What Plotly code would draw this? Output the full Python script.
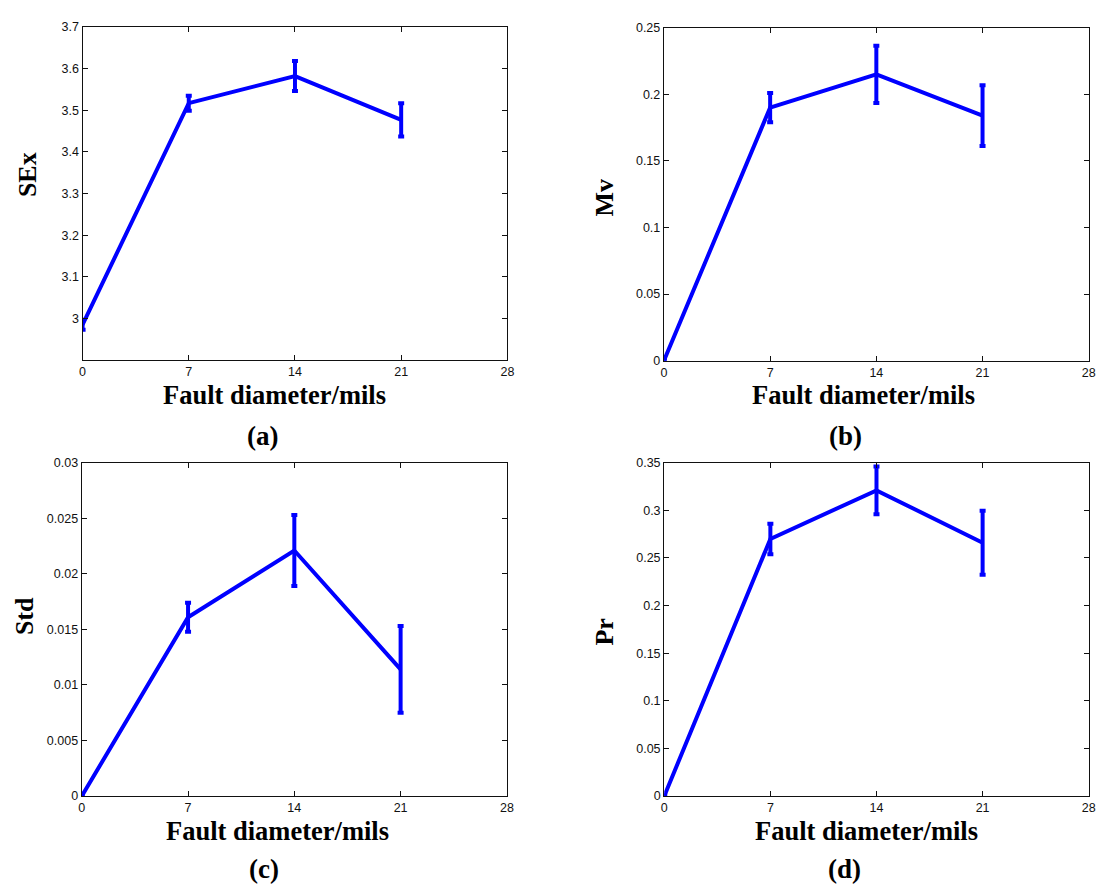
import plotly.graph_objects as go

W, H = 1101, 892

fault_diam = [0, 7, 14, 21]
x_ticks = [0, 7, 14, 21, 28]

sex_vals = [2.985, 3.517, 3.582, 3.477]
sex_err = [0.012, 0.018, 0.036, 0.040]
mv_vals = [0.0, 0.190, 0.215, 0.184]
mv_err = [0.0005, 0.011, 0.0215, 0.0228]
std_vals = [0.0, 0.0161, 0.0221, 0.0114]
std_err = [0.00005, 0.0013, 0.0032, 0.0039]
pr_vals = [0.0, 0.270, 0.321, 0.266]
pr_err = [0.001, 0.016, 0.025, 0.0335]

sex_ticks = [3.0, 3.1, 3.2, 3.3, 3.4, 3.5, 3.6, 3.7]
sex_ticktext = ["3", "3.1", "3.2", "3.3", "3.4", "3.5", "3.6", "3.7"]
mv_ticks = [0, 0.05, 0.1, 0.15, 0.2, 0.25]
mv_ticktext = ["0", "0.05", "0.1", "0.15", "0.2", "0.25"]
std_ticks = [0, 0.005, 0.01, 0.015, 0.02, 0.025, 0.03]
std_ticktext = ["0", "0.005", "0.01", "0.015", "0.02", "0.025", "0.03"]
pr_ticks = [0, 0.05, 0.1, 0.15, 0.2, 0.25, 0.3, 0.35]
pr_ticktext = ["0", "0.05", "0.1", "0.15", "0.2", "0.25", "0.3", "0.35"]

panels = [
    dict(vals=sex_vals, err=sex_err, yr=[2.9, 3.7], tv=sex_ticks, tt=sex_ticktext,
         xd=[80.3, 509.0], yd=[20.3, 358.7], ytitle="SEx", ytpos=(25, 170),
         xtpos=(274, 394), label="(a)", lpos=(262, 436)),
    dict(vals=mv_vals, err=mv_err, yr=[0, 0.25], tv=mv_ticks, tt=mv_ticktext,
         xd=[667.0, 1095.7], yd=[21.0, 359.3], ytitle="Mv", ytpos=(607, 193),
         xtpos=(868, 394), label="(b)", lpos=(850, 436)),
    dict(vals=std_vals, err=std_err, yr=[0, 0.03], tv=std_ticks, tt=std_ticktext,
         xd=[79.5, 508.5], yd=[463.0, 801.7], ytitle="Std", ytpos=(21, 619),
         xtpos=(277, 837), label="(c)", lpos=(263, 876)),
    dict(vals=pr_vals, err=pr_err, yr=[0, 0.35], tv=pr_ticks, tt=pr_ticktext,
         xd=[667.3, 1095.7], yd=[463.0, 801.7], ytitle="Pr", ytpos=(607, 635),
         xtpos=(871, 837), label="(d)", lpos=(849, 876)),
]

fig = go.Figure()
layout = dict(width=W, height=H, autosize=False, margin=dict(l=0, r=0, t=0, b=0),
              paper_bgcolor="white", plot_bgcolor="white", showlegend=False)
annotations = []
tickfont = dict(family="Liberation Sans, Arial", size=12.5, color="#111111")
serif = "Liberation Serif, Times New Roman"

for i, p in enumerate(panels, start=1):
    sfx = "" if i == 1 else str(i)
    fig.add_trace(go.Scatter(
        x=fault_diam, y=p["vals"], mode="lines",
        line=dict(color="#0000FF", width=4),
        error_y=dict(type="data", array=p["err"], visible=True, color="#0000FF",
                     thickness=4, width=3),
        xaxis="x" + sfx, yaxis="y" + sfx, cliponaxis=False,
    ))
    layout["xaxis" + sfx] = dict(
        domain=[p["xd"][0] / W, p["xd"][1] / W], anchor="y" + sfx,
        range=[0, 28], tickmode="array", tickvals=x_ticks,
        ticktext=[str(v) for v in x_ticks],
        showline=True, linecolor="#111111", linewidth=1.3, mirror="ticks",
        ticks="inside", ticklen=5, tickcolor="#111111", tickwidth=1,
        showgrid=False, zeroline=False, tickfont=tickfont,
    )
    layout["yaxis" + sfx] = dict(
        domain=[1 - p["yd"][1] / H, 1 - p["yd"][0] / H], anchor="x" + sfx,
        range=p["yr"], tickmode="array", tickvals=p["tv"], ticktext=p["tt"],
        showline=True, linecolor="#111111", linewidth=1.3, mirror="ticks",
        ticks="inside", ticklen=5, tickcolor="#111111", tickwidth=1,
        showgrid=False, zeroline=False, tickfont=tickfont,
    )
    annotations.append(dict(
        text="<b>" + p["ytitle"] + "</b>", x=p["ytpos"][0] / W, y=1 - p["ytpos"][1] / H,
        xref="paper", yref="paper", showarrow=False, textangle=-90,
        xanchor="center", yanchor="middle",
        font=dict(family=serif, size=26, color="black")))
    annotations.append(dict(
        text="<b>Fault diameter/mils</b>", x=p["xtpos"][0] / W, y=1 - p["xtpos"][1] / H,
        xref="paper", yref="paper", showarrow=False,
        xanchor="center", yanchor="middle",
        font=dict(family=serif, size=26.5, color="black")))
    annotations.append(dict(
        text="<b>" + p["label"] + "</b>", x=p["lpos"][0] / W, y=1 - p["lpos"][1] / H,
        xref="paper", yref="paper", showarrow=False,
        xanchor="center", yanchor="middle",
        font=dict(family=serif, size=27, color="black")))

layout["annotations"] = annotations
fig.update_layout(**layout)
fig.write_html("out.html")
